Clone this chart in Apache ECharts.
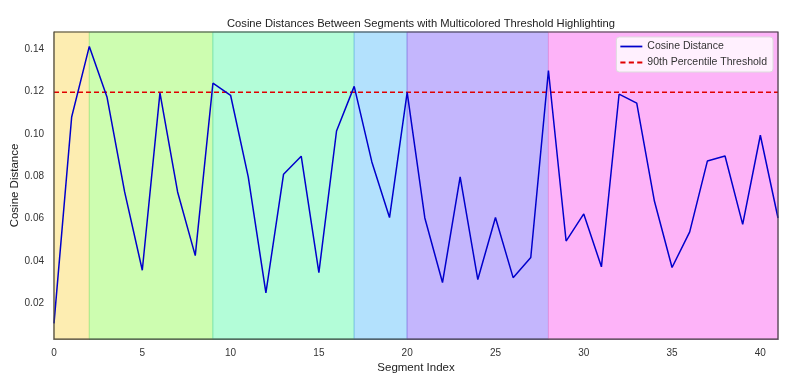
<!DOCTYPE html>
<html>
<head>
<meta charset="utf-8">
<script src="https://cdn.jsdelivr.net/npm/echarts@6/dist/echarts.min.js"></script>
<style>html,body{margin:0;padding:0;background:#fff;}#c{width:800px;height:380px;}</style>
</head>
<body>
<div id="c"></div>
<script>
const segmentIndex = [0,1,2,3,4,5,6,7,8,9,10,11,12,13,14,15,16,17,18,19,20,21,22,23,24,25,26,27,28,29,30,31,32,33,34,35,36,37,38,39,40,41];
const cosineDistance = [0.0105,0.108,0.1414,0.1175,0.0726,0.0356,0.1194,0.0726,0.0425,0.124,0.1183,0.0797,0.0249,0.081,0.0895,0.0345,0.1014,0.1225,0.0868,0.0605,0.1197,0.0603,0.0298,0.0797,0.0312,0.0605,0.0321,0.0416,0.130,0.0494,0.0622,0.0372,0.1188,0.1146,0.0683,0.0369,0.0537,0.0872,0.0896,0.0573,0.0994,0.0603];
const threshold = 0.1197;
const bandStarts = [0,2,9,17,20,28];
const bandEnds = [2,9,17,20,28,41];
const bandColors = ['#fdedb1','#cdfdb0','#b3fdd8','#b3e1fd','#c4b6fd','#fdb3f8'];
const bandEdges = ['#f2d98a','#a8ec8c','#7fe8b6','#7fc4ec','#9b88e8','#e493df'];
const yTicks = [0.02,0.04,0.06,0.08,0.10,0.12,0.14];

const font = 'Liberation Sans, Arial, sans-serif';
const chart = echarts.init(document.getElementById('c'), null, {renderer:'canvas'});
chart.setOption({
  animation:false,
  backgroundColor:'#fff',
  title:{text:'Cosine Distances Between Segments with Multicolored Threshold Highlighting',left:416,textAlign:'center',top:13,
    textStyle:{fontFamily:font,fontSize:11.2,fontWeight:'normal',color:'#222'}},
  grid:{left:54,right:22,top:32,bottom:41,outerBoundsMode:'none',containLabel:false},
  legend:{orient:'vertical',right:27,top:37,itemGap:5,itemWidth:22,itemHeight:2,
    backgroundColor:'rgba(255,255,255,0.8)',borderColor:'#ddd',borderWidth:1,borderRadius:3,padding:[4,6,4,4],
    textStyle:{fontFamily:font,fontSize:10.5,color:'#333'},
    data:[{name:'Cosine Distance',icon:'path://M0,0H30V2.4H0Z'},
          {name:'90th Percentile Threshold',icon:'path://M0,0H7V2.4H0Z M11.5,0H18.5V2.4H11.5Z M23,0H30V2.4H23Z'}]},
  xAxis:{type:'value',min:0,max:41,interval:5,name:'Segment Index',nameLocation:'middle',nameGap:23,nameMoveOverlap:false,
    nameTextStyle:{fontFamily:font,fontSize:11.5,color:'#222'},
    axisLine:{show:true,lineStyle:{color:'#444',width:1.2}},axisTick:{show:false},splitLine:{show:false},
    axisLabel:{fontFamily:font,fontSize:10,color:'#333',margin:9,showMaxLabel:false}},
  yAxis:{type:'value',min:0.0031,max:0.1482,name:'Cosine Distance',nameLocation:'middle',nameGap:33,nameMoveOverlap:false,
    nameTextStyle:{fontFamily:font,fontSize:11.5,color:'#222'},
    axisLine:{show:true,lineStyle:{color:'#444',width:1.2}},axisTick:{show:false},splitLine:{show:false},
    axisLabel:{fontFamily:font,fontSize:10,color:'#333',margin:10,customValues:yTicks,formatter:v=>v.toFixed(2)}},
  series:[
    {type:'line',name:'bands',data:[],silent:true,z:1,
     markArea:{silent:true,data:bandStarts.map((s,i)=>[{xAxis:s,itemStyle:{color:bandColors[i],borderColor:bandEdges[i],borderWidth:1}},{xAxis:bandEnds[i]}])}},
    {type:'line',name:'Cosine Distance',data:segmentIndex.map((x,i)=>[x,cosineDistance[i]]),
     showSymbol:false,symbol:'none',lineStyle:{color:'#0000cc',width:1.5},itemStyle:{color:'#0000cc'},z:5},
    {type:'line',name:'90th Percentile Threshold',data:[[0,threshold],[41,threshold]],
     showSymbol:false,symbol:'none',lineStyle:{color:'#e00000',width:1.5,type:[5,3]},itemStyle:{color:'#e00000'},z:4}
  ]
});
chart.setOption({graphic:[{type:'rect',shape:{x:54,y:32,width:724,height:307},style:{fill:'none',stroke:'#444',lineWidth:1.2},z:100,silent:true}]});
</script>
</body>
</html>
